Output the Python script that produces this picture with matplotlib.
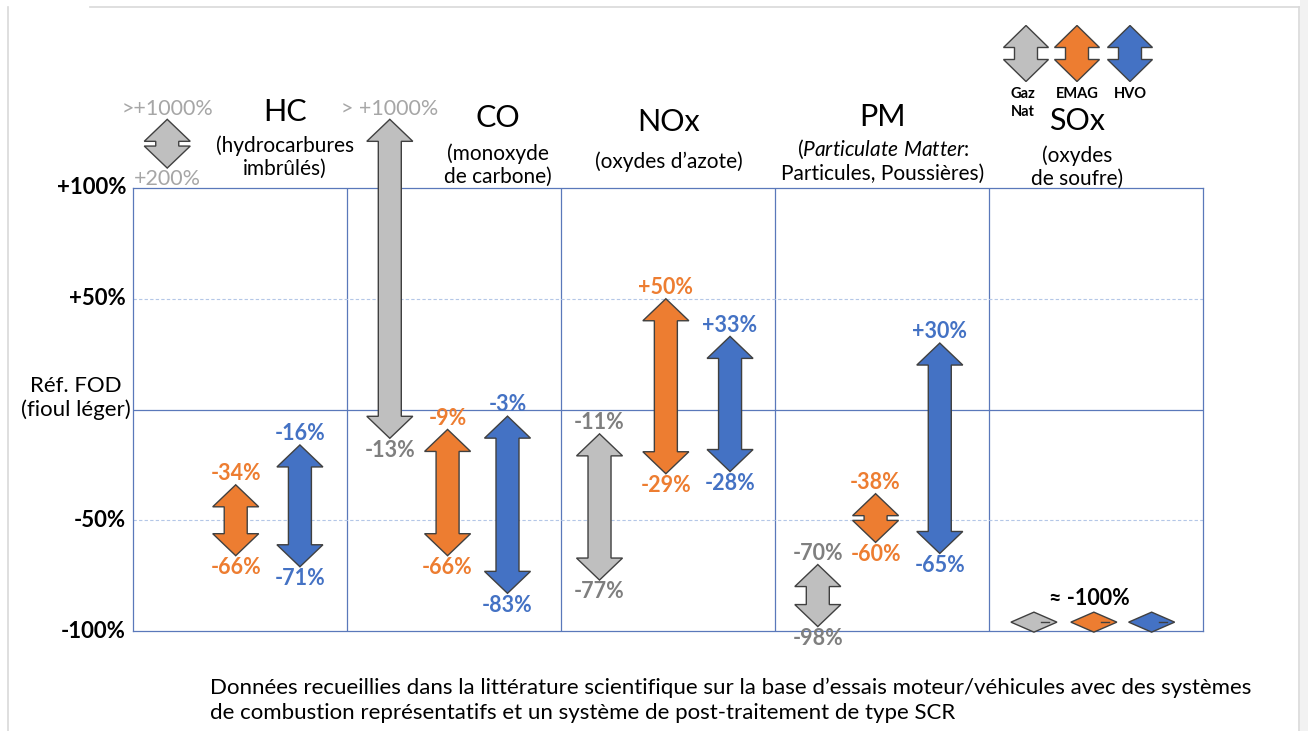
import matplotlib.pyplot as plt
from matplotlib.patches import Polygon, Rectangle

# data : emission change vs FOD (fioul domestique), %
categories = ['HC', 'CO', 'NOx', 'PM', 'SOx']
subtitles = ['(hydrocarbures\nimbrûlés)', '(monoxyde\nde carbone)', '(oxydes d’azote)',
             '($\\mathit{Particulate\\ Matter}$:\nParticules, Poussières)', '(oxydes\nde soufre)']
fuels = ['Gaz\nNat', 'EMAG', 'HVO']

gaz_low = [200, -13, -77, -98, -100]
gaz_high = [1000, 1000, -11, -70, -100]
emag_low = [-66, -66, -29, -60, -100]
emag_high = [-34, -9, 50, -38, -100]
hvo_low = [-71, -83, -28, -65, -100]
hvo_high = [-16, -3, 33, 30, -100]
offscale_labels = {200: '+200%', 1000: ['>+1000%', '> +1000%']}

y_ticks = [100, 50, -50, -100]
y_ticklabels = ['+100%', '+50%', '-50%', '-100%']
ref_label = 'Réf. FOD\n(fioul léger)'
note = ('Données recueillies dans la littérature scientifique sur la base d’essais moteur/véhicules avec des systèmes\n'
        'de combustion représentatifs et un système de post-traitement de type SCR')

# appearance
W, H = 1308, 731
GRAY, ORANGE, BLUE = '#BFBFBF', '#ED7D31', '#4472C4'
GRAY_TXT, GRAY_LIGHT = '#7F7F7F', '#A6A6A6'
EDGE = '#404040'
FRAME = '#5A78BA'
AX_L, AX_R, AX_T, AX_B = 133, 1203, 188, 631
PXX = 5 / (AX_R - AX_L)       # data units per pixel
PXY = 200 / (AX_B - AX_T)
BREAK = {200: 109, 1000: 131}  # where off-scale values are drawn (above the frame)
gaz_dx = [0.16, 0.2, 0.18, 0.2, 0.21]
emag_dx = [0.48, 0.47, 0.49, 0.47, 0.49]
hvo_dx = [0.78, 0.75, 0.79, 0.77, 0.76]

plt.rcParams['font.family'] = ['Lato', 'DejaVu Sans']
plt.rcParams['mathtext.fontset'] = 'custom'
plt.rcParams['mathtext.rm'] = 'Lato'
plt.rcParams['mathtext.it'] = 'Lato:italic'


def fx(x):
    return x / W


def fy(y):
    return 1 - y / H


def shown(v):
    return BREAK[v] if v > 100 else v


def varrow(ax, x, lo, hi, color, hw=23, sw=11.5, hl=22):
    hw, sw = hw * PXX, sw * PXX
    hl = min(hl * PXY, (hi - lo) / 2 - 2 * PXY)
    pts = [(x, hi), (x + hw, hi - hl), (x + sw, hi - hl), (x + sw, lo + hl), (x + hw, lo + hl),
           (x, lo), (x - hw, lo + hl), (x - sw, lo + hl), (x - sw, hi - hl), (x - hw, hi - hl)]
    ax.add_patch(Polygon(pts, closed=True, fc=color, ec=EDGE, lw=1, clip_on=False, zorder=3))


def hdiamond(ax, x, y, color, length=46, hh=10):
    # flattened double arrow (heads touching) for the ~ -100% SOx values
    half = length / 2 * PXX
    pts = [(x - half, y), (x, y + hh * PXY), (x + half, y), (x, y - hh * PXY)]
    ax.add_patch(Polygon(pts, closed=True, fc=color, ec=EDGE, lw=1, clip_on=False, zorder=3))
    ax.plot([x + 7 * PXX, x + 15 * PXX], [y, y], color=EDGE, lw=1, zorder=4)


def value_label(ax, x, v, pos, color, i):
    if v > 100:
        txt = offscale_labels[v][i] if isinstance(offscale_labels[v], list) else offscale_labels[v]
        kw = dict(color=GRAY_LIGHT, fontsize=15.5, fontweight='normal')
    else:
        txt = f'{v:+d}%'
        kw = dict(color=color, fontsize=15.5, fontweight='bold')
    d = 0.5 if pos == 'top' else -1.0
    ax.annotate(txt, (x, shown(v)), xytext=(0, d), textcoords='offset points', ha='center',
                va='bottom' if pos == 'top' else 'top', annotation_clip=False, zorder=4, **kw)


fig = plt.figure(figsize=(W / 100, H / 100), dpi=100)
ax = fig.add_axes([fx(AX_L), fy(AX_B), (AX_R - AX_L) / W, (AX_B - AX_T) / H])
ax.set_xlim(0, 5)
ax.set_ylim(-100, 100)
ax.set_xticks([])
ax.set_yticks([])
for s in ax.spines.values():
    s.set_color(FRAME)
    s.set_linewidth(0.9)
for c in range(1, 5):
    ax.axvline(c, color=FRAME, lw=0.9)
ax.axhline(0, color=FRAME, lw=0.9)
for g in (50, -50):
    ax.axhline(g, color='#B4C7E7', lw=0.8, ls=(0, (3, 2)))

series = [(gaz_low, gaz_high, gaz_dx, GRAY, GRAY_TXT),
          (emag_low, emag_high, emag_dx, ORANGE, ORANGE),
          (hvo_low, hvo_high, hvo_dx, BLUE, BLUE)]

for i, cat in enumerate(categories):
    if cat == 'SOx':
        for lows, highs, dx, fc, tc in series:
            hdiamond(ax, i + dx[i], lows[i] + 4, fc)
        ax.text(i + 0.47, lows[i] + 4 + 13 * PXY, '≈ -100%', ha='center', va='bottom',
                fontsize=15.5, fontweight='bold', color='black')
        continue
    for lows, highs, dx, fc, tc in series:
        x = i + dx[i]
        varrow(ax, x, shown(lows[i]), shown(highs[i]), fc)
        value_label(ax, x, highs[i], 'top', tc, i)
        value_label(ax, x, lows[i], 'bottom', tc, i)

# category titles
title_x = [285, 498, 669, 883, 1077]
title_y = [112, 118, 122, 117, 121]
sub_y = [157, 165, 162, 161, 167]
for cat, sub, x, ty, sy in zip(categories, subtitles, title_x, title_y, sub_y):
    fig.text(fx(x), fy(ty), cat, ha='center', va='center', fontsize=22)
    fig.text(fx(x), fy(sy), sub, ha='center', va='center', fontsize=15, linespacing=1.2)

# legend
leg_x = [1026, 1077, 1130]
for (lows, highs, dx, fc, tc), name, lx in zip(series, fuels, leg_x):
    xd = (lx - AX_L) * PXX
    varrow(ax, xd, (410 - 82) * PXY, (410 - 26) * PXY, fc, hw=22.5)
    fig.text(fx(lx - 3 if '\n' in name else lx), fy(87), name, ha='center', va='top',
             fontsize=10.5, fontweight='bold', linespacing=1.35)

# y axis labels
for t, lab in zip(y_ticks, y_ticklabels):
    ax.text(-7 * PXX, t, lab, ha='right', va='center', fontsize=16, fontweight='bold')
ax.text(-2 * PXX, 5, ref_label, ha='right', va='center', fontsize=16, linespacing=1.2,
        multialignment='center')

fig.text(fx(210), fy(700), note, ha='left', va='center', fontsize=16, linespacing=1.3)

# page frame
fig.add_artist(plt.Line2D([fx(90), fx(1299)], [fy(7), fy(7)], color='#D9D9D9', lw=1.2))
fig.add_artist(plt.Line2D([fx(8), fx(8)], [fy(7), 0], color='#D9D9D9', lw=1.2))
fig.add_artist(plt.Line2D([fx(1299), fx(1299)], [fy(7), 0], color='#D9D9D9', lw=1.2))
fig.add_artist(Rectangle((fx(1300), 0), fx(8), 1, color='#F2F2F2', lw=0))

fig.savefig('out.png', dpi=100)
